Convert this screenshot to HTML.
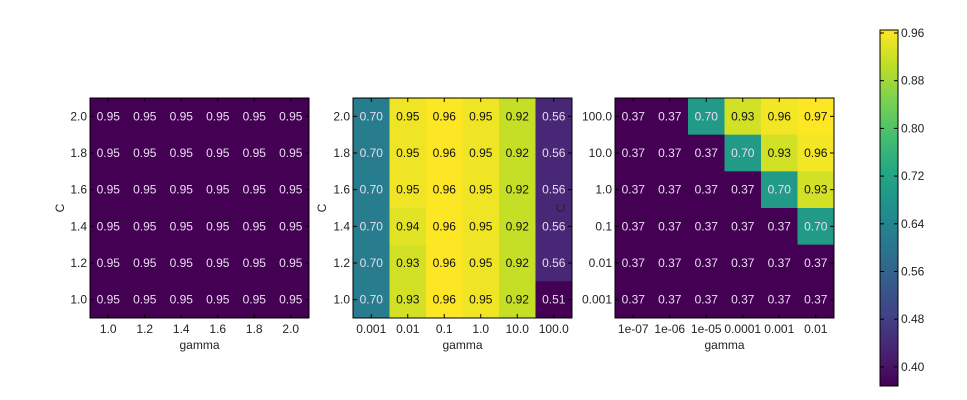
<!DOCTYPE html>
<html><head><meta charset="utf-8"><style>
html,body{margin:0;padding:0;background:#fff;}
svg{display:block;font-family:"Liberation Sans",sans-serif;}
</style></head><body>
<svg id="chart" width="967" height="400" viewBox="0 0 967 400"></svg>
<script>
const p1Rows = ["2.0","1.8","1.6","1.4","1.2","1.0"];
const p1Cols = ["1.0","1.2","1.4","1.6","1.8","2.0"];
const p1Values = [
 [0.95,0.95,0.95,0.95,0.95,0.95],
 [0.95,0.95,0.95,0.95,0.95,0.95],
 [0.95,0.95,0.95,0.95,0.95,0.95],
 [0.95,0.95,0.95,0.95,0.95,0.95],
 [0.95,0.95,0.95,0.95,0.95,0.95],
 [0.95,0.95,0.95,0.95,0.95,0.95]];
const p2Rows = ["2.0","1.8","1.6","1.4","1.2","1.0"];
const p2Cols = ["0.001","0.01","0.1","1.0","10.0","100.0"];
const p2Values = [
 [0.70,0.95,0.96,0.95,0.92,0.56],
 [0.70,0.95,0.96,0.95,0.92,0.56],
 [0.70,0.95,0.96,0.95,0.92,0.56],
 [0.70,0.94,0.96,0.95,0.92,0.56],
 [0.70,0.93,0.96,0.95,0.92,0.56],
 [0.70,0.93,0.96,0.95,0.92,0.51]];
const p3Rows = ["100.0","10.0","1.0","0.1","0.01","0.001"];
const p3Cols = ["1e-07","1e-06","1e-05","0.0001","0.001","0.01"];
const p3Values = [
 [0.37,0.37,0.70,0.93,0.96,0.97],
 [0.37,0.37,0.37,0.70,0.93,0.96],
 [0.37,0.37,0.37,0.37,0.70,0.93],
 [0.37,0.37,0.37,0.37,0.37,0.70],
 [0.37,0.37,0.37,0.37,0.37,0.37],
 [0.37,0.37,0.37,0.37,0.37,0.37]];
const cbTicks = [0.40,0.48,0.56,0.64,0.72,0.80,0.88,0.96];
const cbMin = 0.368, cbMax = 0.965;

const VIR = [[68,1,84],[72,35,116],[64,67,135],[52,94,141],[41,120,142],[32,144,140],[34,167,132],[68,190,112],[121,209,81],[189,222,38],[253,231,37]];
function viridis(t){t=Math.max(0,Math.min(1,t));const s=t*(VIR.length-1);const i=Math.min(Math.floor(s),VIR.length-2);const f=s-i;
 const c=VIR[i].map((v,k)=>Math.round(v+(VIR[i+1][k]-v)*f));return `rgb(${c[0]},${c[1]},${c[2]})`;}
const NS="http://www.w3.org/2000/svg";
const svg=document.getElementById('chart');
const FS='12';
function mk(tag,attrs,parent){const e=document.createElementNS(NS,tag);for(const k in attrs)e.setAttribute(k,attrs[k]);(parent||svg).appendChild(e);return e;}

function heatmap(name,x0,x1,y0,y1,rows,cols,vals){
 const g=mk('g',{});
 
 
 const flat=vals.flat();const mn=Math.min(...flat),mx=Math.max(...flat);
 const cw=(x1-x0)/cols.length,ch=(y1-y0)/rows.length;
 const xs=c=>x0+c*cw, ys=r=>y0+r*ch;
 vals.forEach((row,r)=>row.forEach((v,c)=>{
  const t=mx>mn?(v-mn)/(mx-mn):0;
  const rc=mk('rect',{x:xs(c),y:ys(r),width:cw+0.5,height:ch+0.5,fill:viridis(t)},g);
  
  
  const tx=mk('text',{x:xs(c)+cw/2,y:ys(r)+ch/2+4,'text-anchor':'middle','font-size':FS,fill:t>0.6?'#111':'#eadcf0'},g);
  tx.textContent=v.toFixed(2);
  
  
 }));
 const fr=mk('rect',{x:x0,y:y0,width:x1-x0,height:y1-y0,fill:'none',stroke:'#000','stroke-width':1},g);
 
 
 rows.forEach((lab,r)=>{
  const y=ys(r)+ch/2;
  mk('line',{x1:x0,x2:x0+4,y1:y,y2:y,stroke:'#000'},g);mk('line',{x1:x1,x2:x1-4,y1:y,y2:y,stroke:'#000'},g);
  const t=mk('text',{x:x0-3,y:y+4,'text-anchor':'end','font-size':FS,fill:'#222'},g);t.textContent=lab;
  
  
 });
 cols.forEach((lab,c)=>{
  const x=xs(c)+cw/2;
  mk('line',{x1:x,x2:x,y1:y1,y2:y1-4,stroke:'#000'},g);mk('line',{x1:x,x2:x,y1:y0,y2:y0+4,stroke:'#000'},g);
  const t=mk('text',{x:x,y:y1+15,'text-anchor':'middle','font-size':FS,fill:'#222'},g);t.textContent=lab;
  
  
 });
 const xl=mk('text',{x:(x0+x1)/2,y:y1+31,'text-anchor':'middle','font-size':FS,fill:'#222'},g);xl.textContent='gamma';
 
 
 return g;
}
heatmap('heatmap-1',90,309,98,318,p1Rows,p1Cols,p1Values);
heatmap('heatmap-2',353,572,98,318,p2Rows,p2Cols,p2Values);
heatmap('heatmap-3',615,834,98,318,p3Rows,p3Cols,p3Values);
[[64,208],[326,208],[565,208]].forEach(p=>{
 const t=mk('text',{x:p[0],y:p[1],'text-anchor':'middle','font-size':FS,fill:'#222',transform:`rotate(-90 ${p[0]} ${p[1]})`});
 t.textContent='C';
 
 
});
const cbX=880,cbW=18,cbTop=30,cbBot=386;
const defs=mk('defs',{});const gr=mk('linearGradient',{id:'vg',x1:0,y1:1,x2:0,y2:0},defs);
VIR.forEach((c,i)=>mk('stop',{offset:i/(VIR.length-1),'stop-color':`rgb(${c})`},gr));
const cb=mk('rect',{x:cbX,y:cbTop,width:cbW,height:cbBot-cbTop,fill:'url(#vg)',stroke:'#000'});


const cy=v=>cbBot-(v-cbMin)/(cbMax-cbMin)*(cbBot-cbTop);
cbTicks.forEach(v=>{
 const y=cy(v);
 mk('line',{x1:cbX,x2:cbX+4,y1:y,y2:y,stroke:'#000'});mk('line',{x1:cbX+cbW,x2:cbX+cbW-4,y1:y,y2:y,stroke:'#000'});
 const t=mk('text',{x:cbX+cbW+3,y:y+4,'font-size':FS,fill:'#222'});t.textContent=v.toFixed(2);
 
 
});
</script>
</body></html>
